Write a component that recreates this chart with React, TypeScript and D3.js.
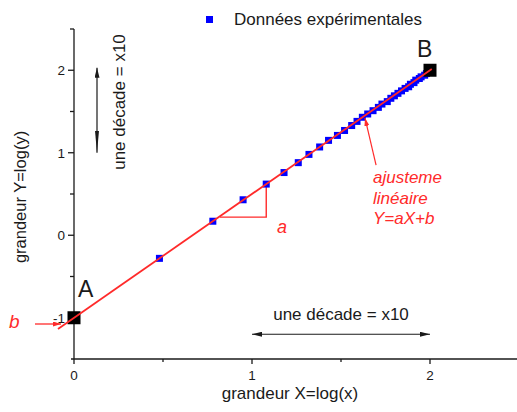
import { useEffect, useRef } from 'react';
import * as d3 from 'd3';

const xData = [0.48, 0.78, 0.95, 1.08, 1.18, 1.26, 1.32, 1.38, 1.43, 1.48, 1.52, 1.56, 1.59, 1.62, 1.65, 1.68, 1.71, 1.73, 1.76, 1.78, 1.8, 1.82, 1.84, 1.86, 1.88, 1.89, 1.91, 1.92, 1.94, 1.95, 1.97, 1.98, 1.99];
const yData = [-0.28, 0.17, 0.43, 0.62, 0.76, 0.88, 0.98, 1.07, 1.15, 1.21, 1.27, 1.33, 1.38, 1.43, 1.47, 1.51, 1.55, 1.59, 1.62, 1.66, 1.69, 1.72, 1.75, 1.78, 1.8, 1.83, 1.85, 1.88, 1.9, 1.92, 1.94, 1.96, 1.98];

// end points A and B
const endNames = ['A', 'B'];
const endX = [0, 2];
const endY = [-1, 2];

// linear fit Y = aX + b
const fitA = 1.5;
const fitB = -1;
const fitRange = [-0.09, 2.01];

const xMajor = [0, 1, 2];
const xMinor = [0.5, 1.5, 2.5];
const yMajor = [-1, 0, 1, 2];
const yMinor = [-0.5, 0.5, 1.5, 2.5];

const legendLabel = 'Données expérimentales';
const xTitle = 'grandeur X=log(x)';
const yTitle = 'grandeur Y=log(y)';
const decadeLabel = 'une décade = x10';
const fitLines = ['ajusteme', 'linéaire', 'Y=aX+b'];

const W = 517;
const H = 412;
const FONT = '"Liberation Sans", Arial, sans-serif';
const RED = '#ff2a2a';
const INK = '#1a1a1a';

export default function App() {
  const svgRef = useRef<SVGSVGElement>(null);

  useEffect(() => {
    const svg = d3.select(svgRef.current);
    if (!svg.node()) return;
    svg.selectAll('*').remove();

    const x = d3.scaleLinear().domain([0, 2.5]).range([74, 519]);
    const y = d3.scaleLinear().domain([-1.5, 2.5]).range([359, 29]);

    const defs = svg.append('defs');
    const marker = (id: string, color: string, w: number, h: number) =>
      defs.append('marker')
        .attr('id', id)
        .attr('viewBox', `0 0 ${w} ${h}`)
        .attr('refX', w)
        .attr('refY', h / 2)
        .attr('markerWidth', w)
        .attr('markerHeight', h)
        .attr('markerUnits', 'userSpaceOnUse')
        .attr('orient', 'auto-start-reverse')
        .append('path')
        .attr('d', `M0,0L${w},${h / 2}L0,${h}Z`)
        .attr('fill', color);
    marker('blk', INK, 10, 5);
    marker('blkLong', INK, 22, 4);
    marker('red', RED, 8, 5);

    // axes
    const ax = svg.append('g').attr('stroke', INK).attr('stroke-width', 1.3);
    ax.append('line').attr('x1', 71).attr('x2', W).attr('y1', y(-1.5)).attr('y2', y(-1.5));
    ax.append('line').attr('x1', x(0)).attr('x2', x(0)).attr('y1', y(2.5)).attr('y2', y(-1.5));
    ax.selectAll('.xmaj').data(xMajor).join('line')
      .attr('x1', (d) => x(d)).attr('x2', (d) => x(d))
      .attr('y1', y(-1.5)).attr('y2', y(-1.5) + 5);
    ax.selectAll('.xmin').data(xMinor).join('line')
      .attr('x1', (d) => x(d)).attr('x2', (d) => x(d))
      .attr('y1', y(-1.5)).attr('y2', y(-1.5) + 3);
    ax.selectAll('.ymaj').data(yMajor).join('line')
      .attr('x1', x(0) - 6).attr('x2', x(0))
      .attr('y1', (d) => y(d)).attr('y2', (d) => y(d));
    ax.selectAll('.ymin').data(yMinor).join('line')
      .attr('x1', x(0) - 4).attr('x2', x(0))
      .attr('y1', (d) => y(d)).attr('y2', (d) => y(d));

    const txt = svg.append('g').attr('font-family', FONT).attr('fill', INK);
    txt.selectAll('.xl').data(xMajor).join('text')
      .attr('x', (d) => x(d)).attr('y', y(-1.5) + 21)
      .attr('text-anchor', 'middle').attr('font-size', 13.5)
      .text((d) => d);
    txt.selectAll('.yl').data(yMajor).join('text')
      .attr('x', x(0) - 9).attr('y', (d) => y(d) + 5)
      .attr('text-anchor', 'end').attr('font-size', 13.5)
      .text((d) => d);
    txt.append('text').attr('x', 290).attr('y', 399)
      .attr('text-anchor', 'middle').attr('font-size', 17).text(xTitle);
    txt.append('text').attr('transform', 'translate(26,197) rotate(-90)')
      .attr('text-anchor', 'middle').attr('font-size', 16.5).text(yTitle);

    // decade arrows
    svg.append('line')
      .attr('x1', x(1)).attr('x2', x(2))
      .attr('y1', y(-1.2)).attr('y2', y(-1.2))
      .attr('stroke', INK).attr('stroke-width', 1.2)
      .attr('marker-start', 'url(#blk)').attr('marker-end', 'url(#blk)');
    txt.append('text').attr('x', 341).attr('y', 320)
      .attr('text-anchor', 'middle').attr('font-size', 17).text(decadeLabel);
    svg.append('line')
      .attr('x1', 97).attr('x2', 97)
      .attr('y1', y(1)).attr('y2', y(2.03))
      .attr('stroke', INK).attr('stroke-width', 1.2)
      .attr('marker-start', 'url(#blkLong)').attr('marker-end', 'url(#blk)');
    txt.append('text').attr('transform', 'translate(125,102) rotate(-90)')
      .attr('text-anchor', 'middle').attr('font-size', 17).text(decadeLabel);

    // slope triangle
    svg.append('path')
      .attr('d', d3.line()([[x(0.82), y(0.22)], [x(1.08), y(0.22)], [x(1.08), y(0.62)]]))
      .attr('fill', 'none').attr('stroke', RED).attr('stroke-width', 1.4);

    // data points
    const pts = d3.zip(xData, yData);
    svg.append('g').selectAll('rect').data(pts).join('rect')
      .attr('x', (d) => x(d[0]) - 3.5).attr('y', (d) => y(d[1]) - 3.5)
      .attr('width', 7).attr('height', 7).attr('fill', '#0000ff');

    // end points
    svg.append('g').selectAll('rect').data(endX).join('rect')
      .attr('x', (d) => x(d) - 6.5).attr('y', (_d, i) => y(endY[i]) - 6.5)
      .attr('width', 13).attr('height', 13).attr('fill', '#000');

    // fit line
    svg.append('line')
      .attr('x1', x(fitRange[0])).attr('y1', y(fitA * fitRange[0] + fitB))
      .attr('x2', x(fitRange[1])).attr('y2', y(fitA * fitRange[1] + fitB))
      .attr('stroke', RED).attr('stroke-width', 1.8);

    txt.append('text').attr('x', 78).attr('y', 297).attr('font-size', 23).text(endNames[0]);
    txt.append('text').attr('x', 417).attr('y', 57).attr('font-size', 23).text(endNames[1]);

    // red annotations
    const red = svg.append('g').attr('font-family', FONT).attr('fill', RED)
      .attr('font-style', 'italic').attr('font-size', 17);
    svg.append('line')
      .attr('x1', x(1.697)).attr('y1', y(0.85))
      .attr('x2', x(1.635)).attr('y2', y(1.42))
      .attr('stroke', RED).attr('stroke-width', 1.2).attr('marker-end', 'url(#red)');
    red.selectAll('.fit').data(fitLines).join('text')
      .attr('x', 373).attr('y', (_d, i) => 183 + i * 20.5)
      .text((d) => d);
    red.append('text').attr('x', 277).attr('y', 233).attr('font-size', 18).text('a');
    red.append('text').attr('x', 9).attr('y', 328).attr('font-size', 19).text('b');
    svg.append('line')
      .attr('x1', 35).attr('x2', 61).attr('y1', 324).attr('y2', 324)
      .attr('stroke', RED).attr('stroke-width', 1.3).attr('marker-end', 'url(#red)');

    // legend
    svg.append('rect').attr('x', 206).attr('y', 16).attr('width', 7).attr('height', 7).attr('fill', '#0000ff');
    txt.append('text').attr('x', 234).attr('y', 25).attr('font-size', 17).text(legendLabel);
  }, []);

  return (
    <svg
      ref={svgRef}
      width={W}
      height={H}
      style={{ position: 'absolute', left: 0, top: 0, background: '#fff' }}
    />
  );
}
